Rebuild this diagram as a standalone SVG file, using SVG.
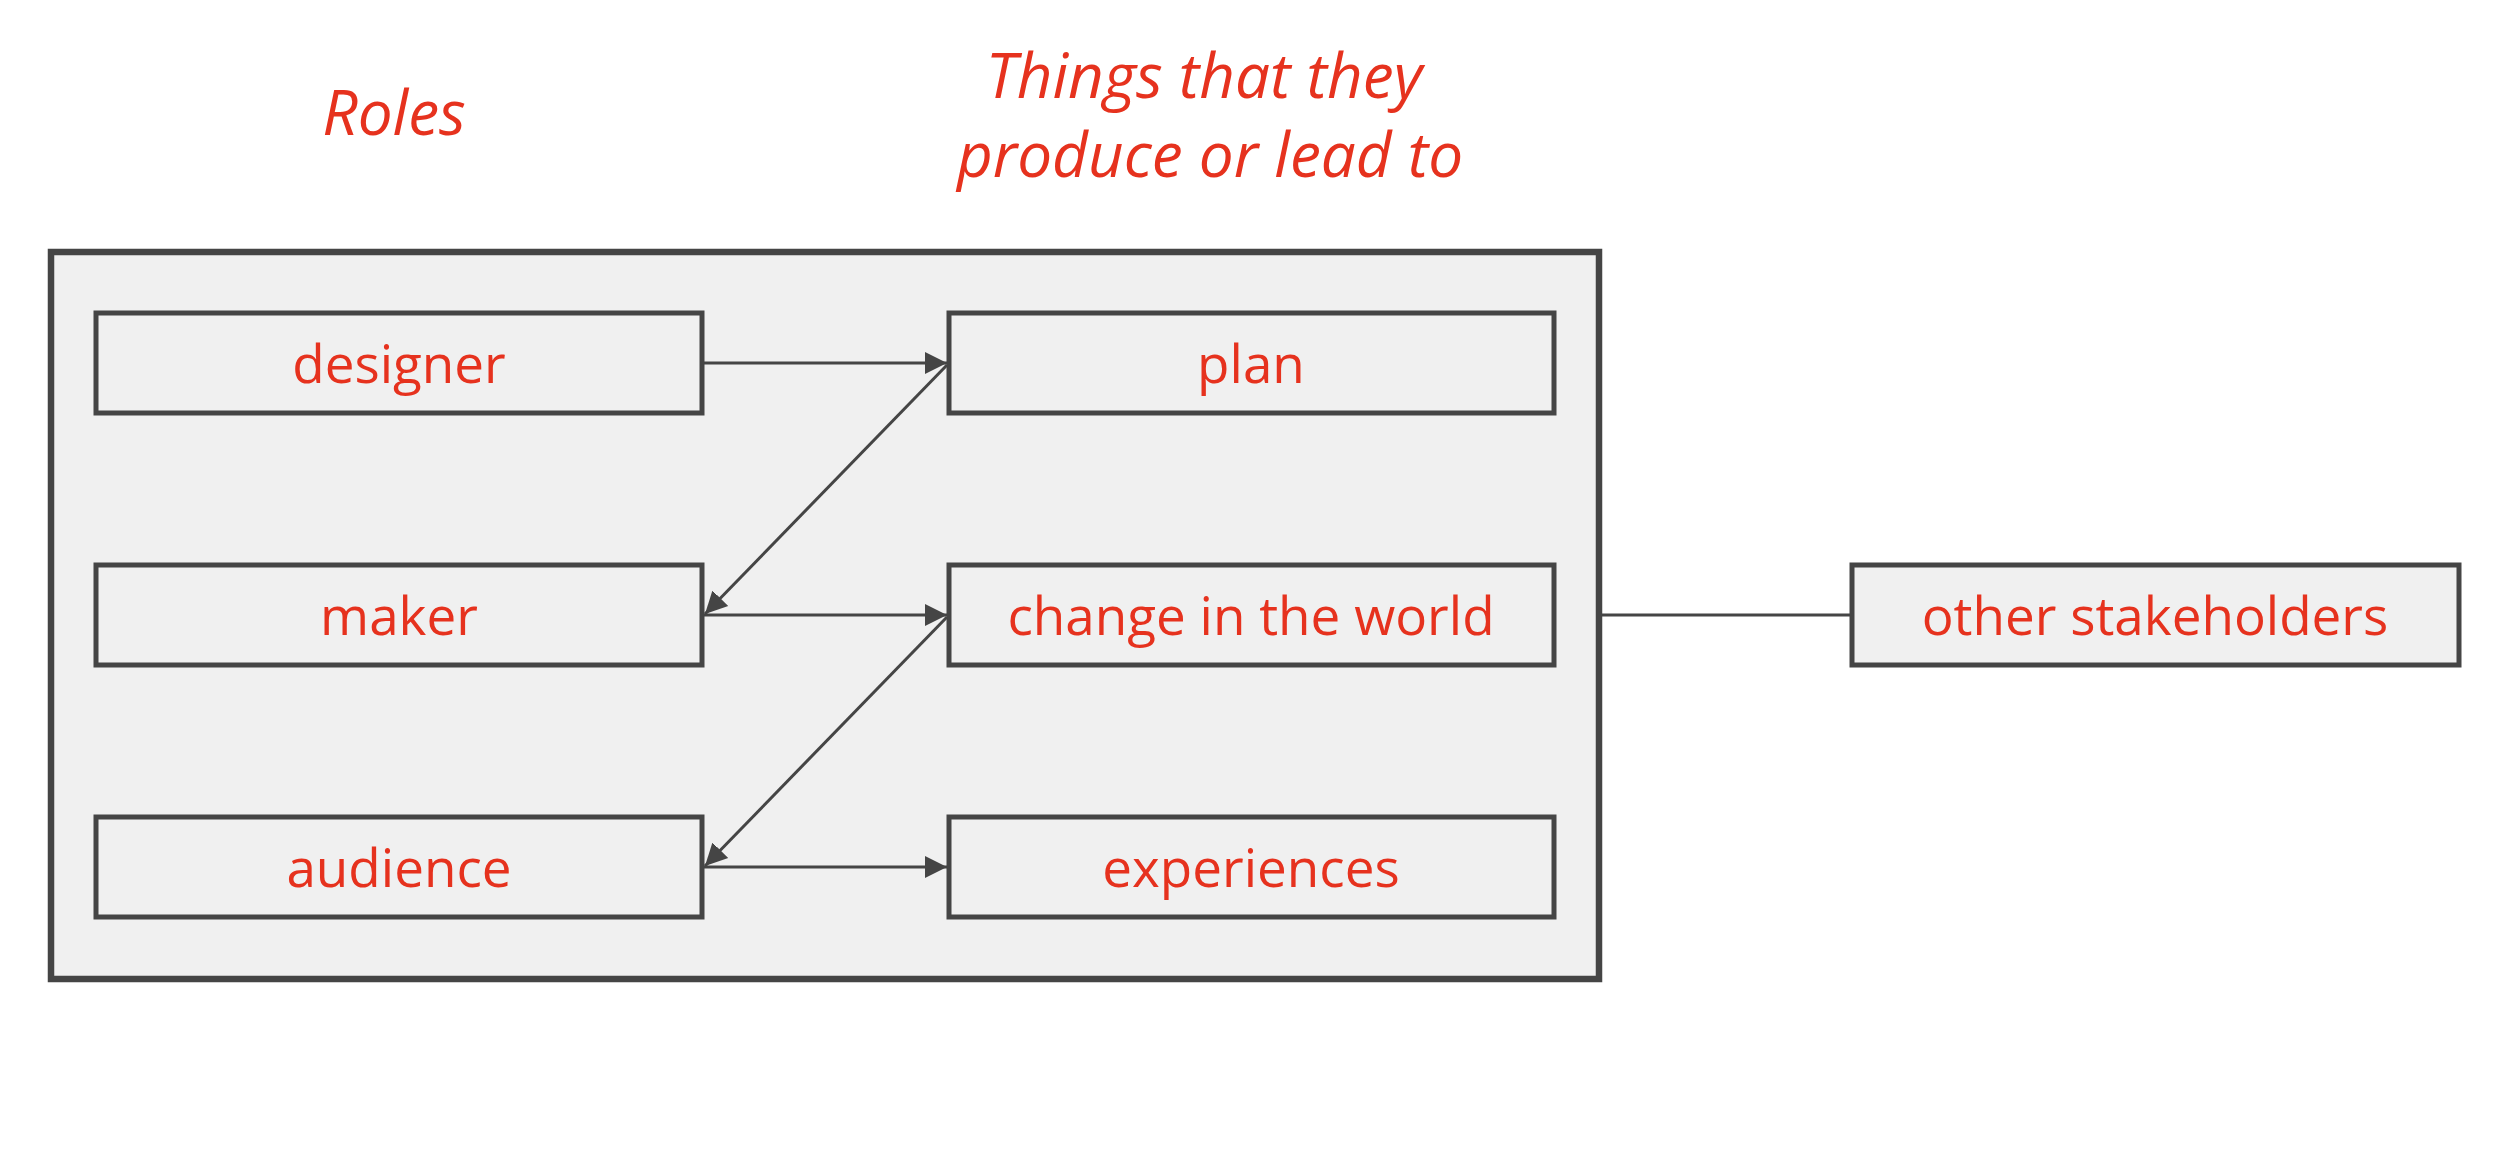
<svg xmlns="http://www.w3.org/2000/svg" width="2516" height="1152" viewBox="0 0 2516 1152">
<style>
.box{fill:#f0f0f0;stroke:#454545;stroke-width:5}
.outer{fill:#f0f0f0;stroke:#454545;stroke-width:6.5}
.lbl{font-family:"Open Sans","Noto Sans",sans-serif;font-size:53px;fill:#e6321e;text-anchor:middle}
.ttl{font-family:"Open Sans","Noto Sans",sans-serif;font-size:62px;font-style:italic;fill:#e6321e;text-anchor:middle}
.conn{stroke:#454545;stroke-width:3;fill:none}
</style>
<defs>
<marker id="arr" markerUnits="userSpaceOnUse" markerWidth="24" markerHeight="24" viewBox="0 0 24 24" refX="22" refY="12" orient="auto">
<path d="M0,1 L22,12 L0,23 Z" fill="#454545"/>
</marker>
</defs>
<rect width="2516" height="1152" fill="#ffffff"/>
<g id="titles">
<text class="ttl" x="394" y="135">Roles</text>
<text class="ttl" x="1204" y="98">Things that they</text>
<text class="ttl" x="1210" y="177">produce or lead to</text>
</g>
<g id="container">
<rect class="outer" x="51" y="252" width="1548" height="727"/>
</g>
<g id="designer"><rect class="box" x="96" y="313" width="606" height="100"/><text class="lbl" x="399" y="383">designer</text></g>
<g id="maker"><rect class="box" x="96" y="565" width="606" height="100"/><text class="lbl" x="399" y="635">maker</text></g>
<g id="audience"><rect class="box" x="96" y="817" width="606" height="100"/><text class="lbl" x="399" y="887">audience</text></g>
<g id="plan"><rect class="box" x="949" y="313" width="605" height="100"/><text class="lbl" x="1251" y="383">plan</text></g>
<g id="change"><rect class="box" x="949" y="565" width="605" height="100"/><text class="lbl" x="1251" y="635">change in the world</text></g>
<g id="experiences"><rect class="box" x="949" y="817" width="605" height="100"/><text class="lbl" x="1251" y="887">experiences</text></g>
<g id="stakeholders"><rect class="box" x="1852" y="565" width="607" height="100"/><text class="lbl" x="2155" y="635">other stakeholders</text></g>
<g id="connectors">
<line class="conn" x1="704" y1="363" x2="947" y2="363" marker-end="url(#arr)"/>
<line class="conn" x1="947" y1="365" x2="705" y2="614" marker-end="url(#arr)"/>
<line class="conn" x1="704" y1="615" x2="947" y2="615" marker-end="url(#arr)"/>
<line class="conn" x1="947" y1="617" x2="705" y2="866" marker-end="url(#arr)"/>
<line class="conn" x1="704" y1="867" x2="947" y2="867" marker-end="url(#arr)"/>
<line class="conn" x1="1602" y1="615" x2="1850" y2="615"/>
</g>
</svg>
